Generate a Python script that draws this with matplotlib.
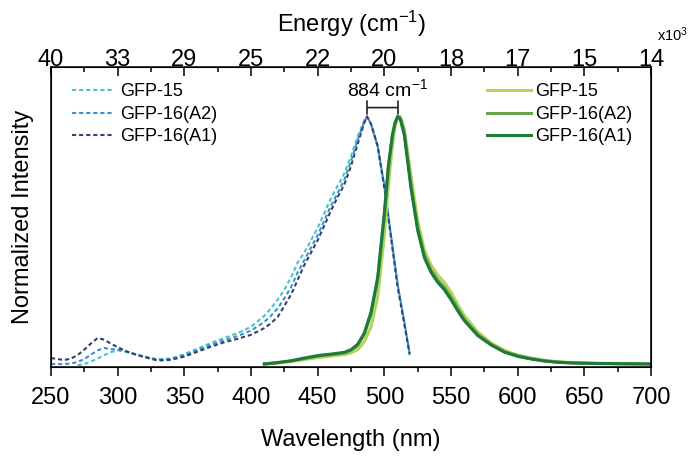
import numpy as np
import matplotlib.pyplot as plt

plt.rcParams['font.family'] = ['Liberation Sans', 'DejaVu Sans']
plt.rcParams['mathtext.default'] = 'regular'

# absorption spectra (dashed), normalized
abs_wl = [250, 255, 260, 265, 270, 275, 280, 285, 290, 295, 300, 305, 310, 320, 330,
          340, 350, 360, 370, 380, 390, 400, 410, 415, 420, 425, 430, 435, 440, 445,
          450, 455, 460, 465, 470, 475, 480, 485, 487, 490, 495, 500, 505, 510, 515, 519]
abs_gfp15 = [np.nan, np.nan, np.nan, np.nan, -0.005, 0.0, 0.01, 0.022, 0.036, 0.048, 0.055, 0.052, 0.045, 0.03, 0.019,
             0.022, 0.04, 0.062, 0.085, 0.105, 0.125, 0.15, 0.195, 0.225, 0.26, 0.30, 0.35, 0.41, 0.45, 0.50,
             0.55, 0.61, 0.67, 0.72, 0.77, 0.84, 0.92, 0.985, 1.0, 0.97, 0.88, 0.72, 0.52, 0.32, 0.17, 0.035]
abs_a2 = [0.0, 0.0, 0.0, 0.002, 0.008, 0.02, 0.038, 0.055, 0.065, 0.06, 0.058, 0.052, 0.044, 0.029, 0.017,
          0.02, 0.035, 0.056, 0.078, 0.096, 0.113, 0.135, 0.17, 0.195, 0.225, 0.265, 0.31, 0.37, 0.42, 0.47,
          0.52, 0.58, 0.64, 0.69, 0.745, 0.82, 0.905, 0.98, 1.0, 0.97, 0.88, 0.72, 0.52, 0.32, 0.17, 0.04]
abs_a1 = [0.024, 0.02, 0.016, 0.022, 0.036, 0.058, 0.083, 0.105, 0.098, 0.082, 0.068, 0.055, 0.044, 0.028, 0.014,
          0.017, 0.03, 0.05, 0.07, 0.088, 0.102, 0.118, 0.145, 0.165, 0.19, 0.235, 0.28, 0.34, 0.40, 0.45,
          0.50, 0.56, 0.62, 0.675, 0.725, 0.80, 0.89, 0.975, 1.0, 0.97, 0.88, 0.71, 0.51, 0.31, 0.16, 0.04]

# emission spectra (solid), normalized
em_wl = [410, 420, 430, 440, 450, 460, 470, 475, 480, 485, 490, 495, 500, 503, 506, 508, 510, 512,
         515, 520, 525, 530, 535, 540, 545, 550, 555, 560, 570, 580, 590, 600, 610, 620, 630,
         640, 660, 680, 700]
em_gfp15 = [0.0, 0.004, 0.01, 0.018, 0.026, 0.032, 0.038, 0.045, 0.058, 0.09, 0.15, 0.27, 0.52, 0.72, 0.88, 0.96, 0.995, 1.0,
            0.95, 0.76, 0.58, 0.46, 0.40, 0.36, 0.33, 0.29, 0.24, 0.195, 0.13, 0.085, 0.055, 0.036, 0.024, 0.015, 0.009,
            0.006, 0.003, 0.001, 0.0]
em_a2 = [0.0, 0.005, 0.012, 0.022, 0.032, 0.038, 0.045, 0.055, 0.075, 0.12, 0.2, 0.34, 0.6, 0.79, 0.92, 0.97, 1.0, 0.99,
         0.93, 0.72, 0.55, 0.44, 0.38, 0.34, 0.31, 0.27, 0.225, 0.18, 0.12, 0.08, 0.05, 0.033, 0.022, 0.013, 0.008,
         0.005, 0.002, 0.001, 0.0]
em_a1 = [0.0, 0.006, 0.013, 0.024, 0.034, 0.04, 0.047, 0.058, 0.08, 0.125, 0.21, 0.35, 0.61, 0.8, 0.925, 0.975, 1.0, 0.99,
         0.925, 0.71, 0.54, 0.43, 0.37, 0.33, 0.30, 0.26, 0.215, 0.175, 0.115, 0.077, 0.048, 0.031, 0.02, 0.012, 0.007,
         0.004, 0.002, 0.001, 0.0]

labels = ['GFP-15', 'GFP-16(A2)', 'GFP-16(A1)']
abs_colors = ['#45c3c6', '#3b90cf', '#34406f']
em_colors = ['#b3d35a', '#67a548', '#1d7a3a']
wl_ticks = [250, 300, 350, 400, 450, 500, 550, 600, 650, 700]

fig = plt.figure(figsize=(6.92, 4.57), dpi=100)
ax = fig.add_subplot(111)
fig.subplots_adjust(left=0.0737, right=0.9408, top=0.8534, bottom=0.197)

abs_lines = []
for y, c, lab in zip([abs_gfp15, abs_a2, abs_a1], abs_colors, labels):
    l, = ax.plot(abs_wl, y, color=c, lw=1.5, ls=(0, (2, 1.4)), label=lab)
    abs_lines.append(l)
em_lines = []
for y, c, lab in zip([em_gfp15, em_a2, em_a1], em_colors, labels):
    l, = ax.plot(em_wl, y, color=c, lw=2.2, label=lab)
    em_lines.append(l)

ax.set_xlim(250, 700)
ax.set_ylim(-0.012, 1.2)
ax.set_xticks(wl_ticks)
ax.set_xticks(np.arange(275, 700, 50), minor=True)
ax.set_yticks([])
ax.tick_params(axis='x', which='major', direction='out', length=6.5, width=1.1, labelsize=17, pad=8)
ax.tick_params(axis='x', which='minor', direction='out', length=3.5, width=1.1)
for s in ax.spines.values():
    s.set_linewidth(1.1)
ax.set_xlabel('Wavelength (nm)', fontsize=17, labelpad=14)
ax.set_ylabel('Normalized Intensity', fontsize=17, labelpad=12)

# top energy axis (x10^3 cm-1)
ax2 = ax.twiny()
ax2.set_xlim(ax.get_xlim())
ax2.set_xticks(wl_ticks)
ax2.set_xticklabels([f'{1e4 / w:.0f}' for w in wl_ticks])
ax2.set_xticks(np.arange(275, 700, 50), minor=True)
ax2.tick_params(axis='x', which='major', direction='in', length=6.5, width=1.1, labelsize=17, pad=-3)
ax2.tick_params(axis='x', which='minor', direction='in', length=3.5, width=1.1)
ax2.set_xlabel('Energy (cm$^{-1}$)', fontsize=17, labelpad=12.5)
fig.text(0.972, 0.925, 'x10$^{3}$', fontsize=10.5, ha='center', va='center')

# Stokes shift bracket
p_abs = abs_wl[int(np.nanargmax(abs_a1))]
p_em = em_wl[int(np.nanargmax(em_a2))]
ax.annotate('', xy=(p_abs, 1.036), xytext=(p_em, 1.036),
            arrowprops=dict(arrowstyle='|-|,widthA=0.45,widthB=0.45', lw=1.2, color='#222222',
                            shrinkA=0, shrinkB=0))
ax.text((p_abs + p_em) / 2 + 4, 1.11, '884 cm$^{-1}$', fontsize=14, ha='center', va='center')

leg1 = ax.legend(handles=abs_lines, loc='upper left', bbox_to_anchor=(0.035, 0.945), frameon=False,
                 fontsize=13, handlelength=2.2, handletextpad=0.45, labelspacing=0.3,
                 borderpad=0, borderaxespad=0)
ax.add_artist(leg1)
ax.legend(handles=em_lines, loc='upper left', bbox_to_anchor=(0.727, 0.945), frameon=False,
          fontsize=13, handlelength=2.4, handletextpad=0.25, labelspacing=0.3,
          borderpad=0, borderaxespad=0)

plt.savefig('out.png', dpi=100)
